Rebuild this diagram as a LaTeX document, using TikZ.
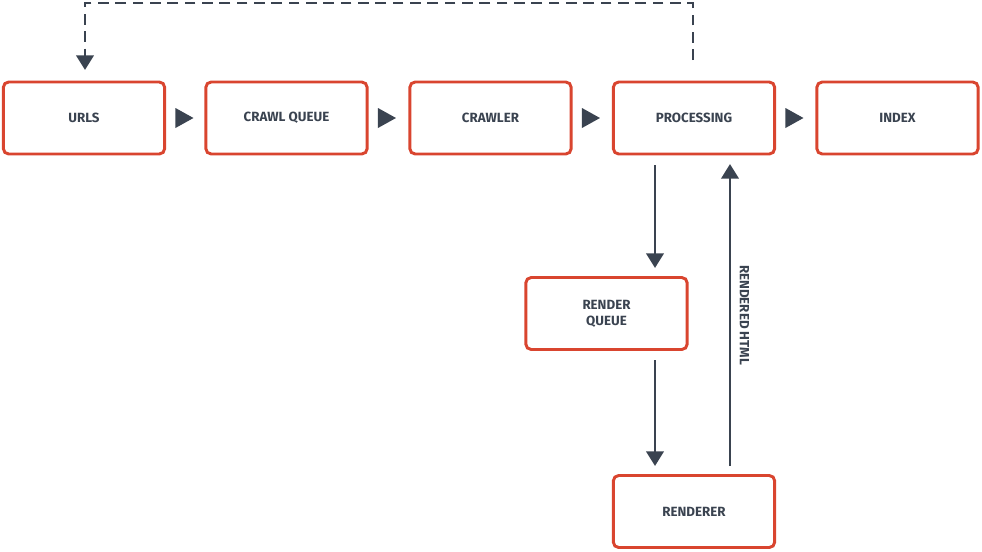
\documentclass[tikz,border=0pt]{standalone}
\usepackage{fontspec}
\setmainfont{Fira Sans}
\usetikzlibrary{arrows.meta}
\definecolor{boxred}{HTML}{D9452F}
\definecolor{arr}{HTML}{3A4350}
\begin{document}
\begin{tikzpicture}[x=0.75pt,y=-0.75pt,
  box/.style={draw=boxred,line width=2.2pt,rounded corners=4pt,minimum width=121pt,minimum height=54pt,inner sep=0pt,align=center,font=\fontsize{10}{12}\selectfont\bfseries,text=arr},
  ar/.style={arr,line width=2.2pt,-{Triangle[length=11pt,width=13pt]}}]
\useasboundingbox (0,0) rectangle (982,551);
\node[box] (urls) at (84,118) {URLS};
\node[box] (cq) at (286.5,118) {CRAWL QUEUE};
\node[box] (cr) at (490.5,118) {CRAWLER};
\node[box] (pr) at (694,118) {PROCESSING};
\node[box] (ix) at (897.5,118) {INDEX};
\node[box] (rq) at (606.5,313.5) {RENDER\\QUEUE};
\node[box] (rr) at (694,511.5) {RENDERER};
\foreach \a/\b in {urls/cq,cq/cr,cr/pr,pr/ix}
  \fill[arr] ([xshift=7pt]\a.east) -- ++(0,-10) -- ++(18,10) -- ++(-18,10) -- cycle;
\coordinate (p1) at (655,165); \coordinate (p2) at (655,268);
\coordinate (q1) at (655,360); \coordinate (q2) at (655,466);
\coordinate (r1) at (730,466); \coordinate (r2) at (730,164);
\draw[ar] (p1) -- (p2);
\draw[ar] (q1) -- (q2);
\draw[ar] (r1) -- (r2) node[midway,rotate=-90,anchor=south,font=\fontsize{10}{12}\selectfont\bfseries,text=arr,yshift=3pt] {RENDERED HTML};
\coordinate (d1) at (693,60); \coordinate (d2) at (85,70);
\draw[arr,line width=2.2pt,dash pattern=on 8pt off 5pt,-{Triangle[length=11pt,width=13pt]}] (d1) -- (693,3) -- (85,3) -- (d2);
\end{tikzpicture}
\end{document}
